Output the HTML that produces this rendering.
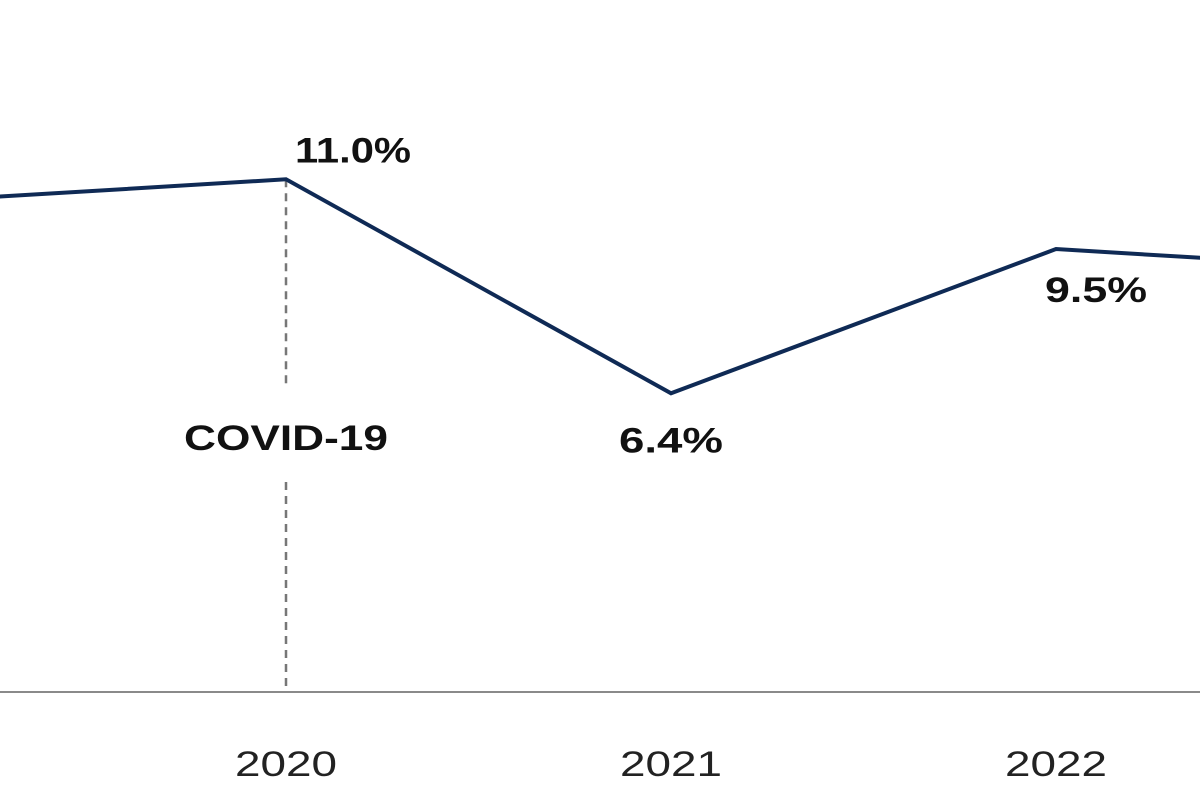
<!DOCTYPE html>
<html><head><meta charset="utf-8"><style>
html,body{margin:0;padding:0;background:#fff;}
svg{display:block;font-family:"Liberation Sans",Arial,sans-serif;}
</style></head><body>
<svg id="chart" width="1200" height="800" viewBox="0 0 1200 800"></svg>
<script>
const years = [2019, 2020, 2021, 2022, 2023];
const values = [10.5, 11.0, 6.4, 9.5, 9.0];
const valueLabels = ["", "11.0%", "6.4%", "9.5%", ""];
const tickLabels = ["2019", "2020", "2021", "2022", "2023"];

const NS = "http://www.w3.org/2000/svg";
const svg = document.getElementById("chart");
const xScale = y => 286 + (y - 2020) * 385;
const yScale = v => 691 - v * 46.52;
function mk(tag, attrs, parent) {
  const e = document.createElementNS(NS, tag);
  for (const k in attrs) e.setAttribute(k, attrs[k]);
  (parent || svg).appendChild(e);
  return e;
}
const axis = mk("line", {x1: 0, x2: 1200, y1: 692, y2: 692, stroke: "#8a8a8a", "stroke-width": 2});


const cx = xScale(2020);
const d1 = mk("line", {x1: cx, x2: cx, y1: yScale(values[1]), y2: 386, stroke: "#777", "stroke-width": 2.5, "stroke-dasharray": "8,6"});


const d2 = mk("line", {x1: cx, x2: cx, y1: 482, y2: 692, stroke: "#777", "stroke-width": 2.5, "stroke-dasharray": "8,6"});


const cl = mk("text", {x: cx, y: 450, "text-anchor": "middle", "font-size": 35, "font-weight": "bold", fill: "#111", textLength: 204, lengthAdjust: "spacingAndGlyphs"});
cl.textContent = "COVID-19";


const pts = years.map((y, i) => xScale(y) + "," + yScale(values[i])).join(" ");
const line = mk("polyline", {points: pts, fill: "none", stroke: "#0f2a55", "stroke-width": 4, "stroke-linejoin": "miter"});


const offsets = [[0,0,"middle",0], [9,-17,"start",116], [0,59,"middle",104], [40,53,"middle",102], [0,0,"middle",0]];
years.forEach((y, i) => {
  if (!valueLabels[i]) return;
  const t = mk("text", {x: xScale(y) + offsets[i][0], y: yScale(values[i]) + offsets[i][1], "text-anchor": offsets[i][2], "font-size": 35, "font-weight": "bold", fill: "#111", textLength: offsets[i][3], lengthAdjust: "spacingAndGlyphs"});
  t.textContent = valueLabels[i];
  
  
});
years.forEach((y, i) => {
  const t = mk("text", {x: xScale(y), y: 776, "text-anchor": "middle", "font-size": 35, fill: "#222", textLength: 102, lengthAdjust: "spacingAndGlyphs"});
  t.textContent = tickLabels[i];
  
  
});
</script>
</body></html>
